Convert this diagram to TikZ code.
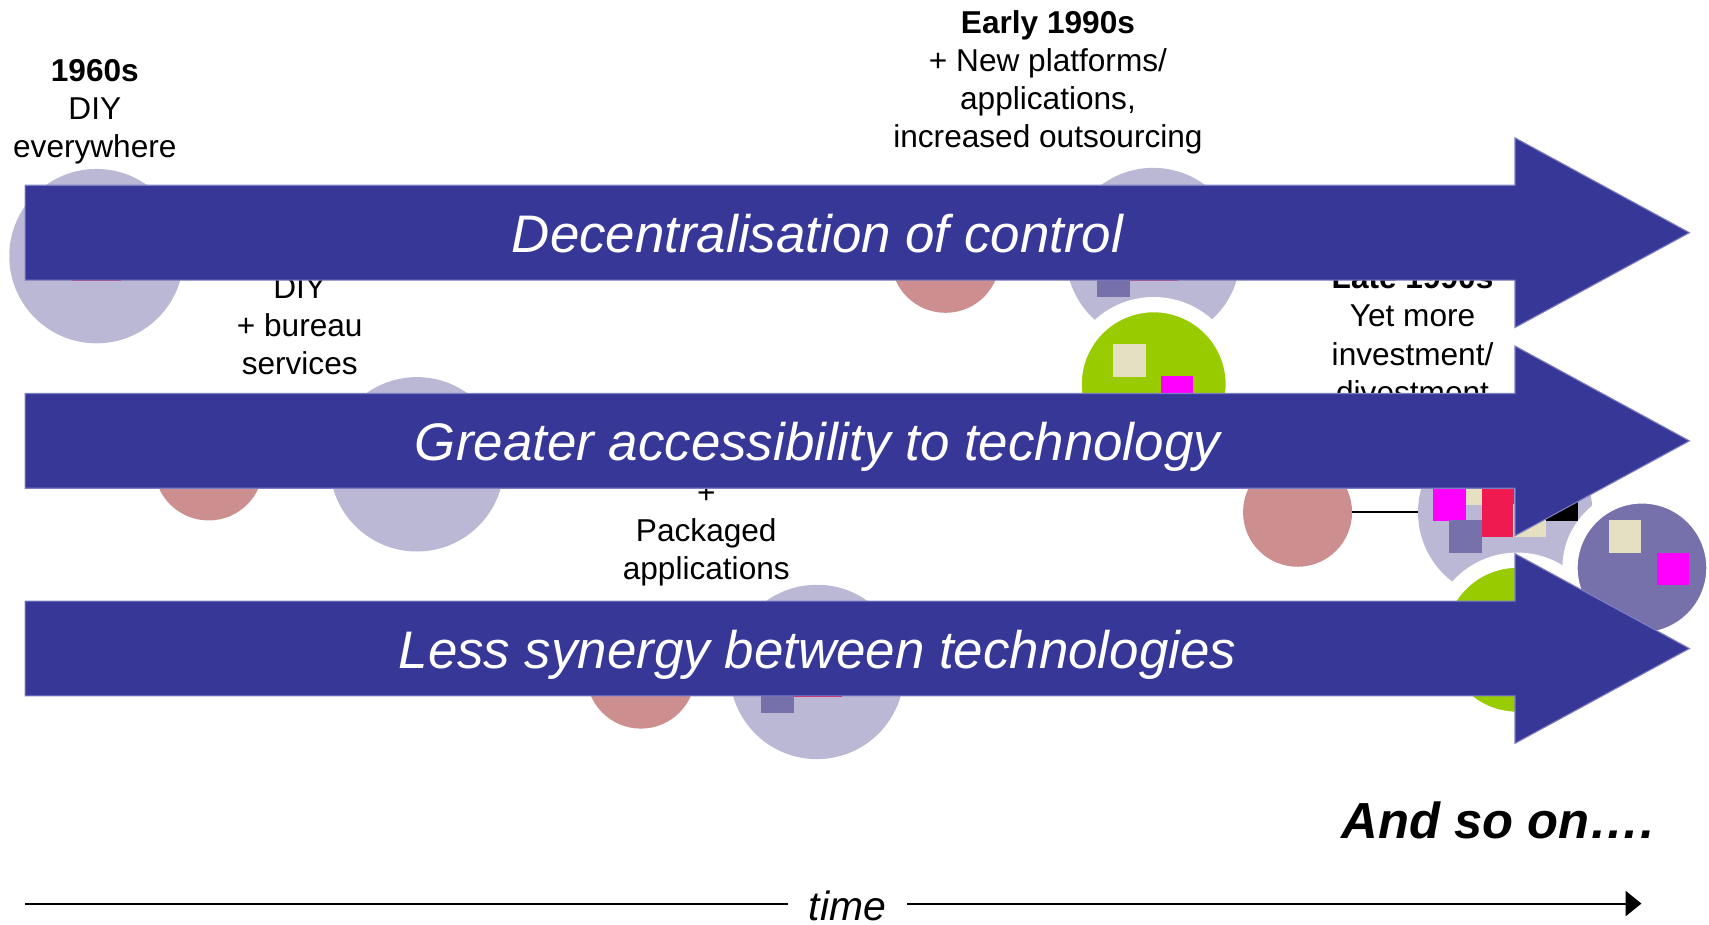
\documentclass[tikz,border=0pt]{standalone}
\usepackage{fontspec}
\setmainfont{Liberation Sans}
\usetikzlibrary{arrows.meta,positioning,calc}
\definecolor{bandblue}{RGB}{55,55,151}
\definecolor{bandedge}{RGB}{125,125,195}
\definecolor{lavender}{RGB}{187,184,214}
\definecolor{rosy}{RGB}{204,142,142}
\definecolor{lime}{RGB}{153,204,0}
\definecolor{beige}{RGB}{229,224,194}
\definecolor{purp}{RGB}{118,112,171}
\definecolor{crim}{RGB}{238,26,80}
\definecolor{fuchsia}{RGB}{255,0,255}
\tikzset{
band/.style={
  fill=bandblue, draw=bandedge, line width=1pt
  },
bandtext/.style={
  anchor=base, text=white, inner sep=0pt,
  font=\fontsize{48.5}{58}\selectfont\itshape
  },
era/.style={
  anchor=base, align=center, inner sep=0pt,
  font=\fontsize{29}{35}\selectfont
  },
blob/.style={
  circle, inner sep=0pt, minimum size=#1
  },
lavdot/.style={blob=160pt, fill=lavender},
pinkdot/.style={blob=100pt, fill=rosy},
ringdot/.style 2 args={
  blob=#1, fill=#2, draw=white, line width=14pt
  }
}
\begin{document}
\begin{tikzpicture}[x=1pt,y=-1pt,>={Triangle[length=14.5pt,width=23pt]}]
\useasboundingbox (0,0) rectangle (1568,848);

\node[era] (lab60) at (87,144.5) {\textbf{1960s}\\DIY\\everywhere};
\node[era] (lab70) at (275,344) {DIY\\+ bureau\\services};
\node[era] (lab80) at (648,532) {+\\Packaged\\applications};
\node[era] (lab90) at (961.5,135.5)
  {\textbf{Early 1990s}\\+ New platforms/\\applications,\\increased outsourcing};
\node[era] (lab99) at (1296,370)
  {\textbf{Late 1990s}\\Yet more\\investment/\\divestment};

\node[lavdot] (lav60) at (88.5,235) {};
\fill[crim] (66,228) rectangle (111,258);

\node[pinkdot] (pink70) at (191.5,427.5) {};
\node[lavdot] (lav70) at (382.5,426) {};
\fill[crim] (360,419) rectangle (405,449);

\node[pinkdot] (pink80) at (588,618.5) {};
\node[lavdot] (lav80) at (749.5,616.5) {};
\fill[purp] (698.5,624) rectangle (728.5,654);
\fill[crim] (728.5,609.5) rectangle (772.5,639.5);

\node[pinkdot] (pink90) at (867.5,237) {};
\node[lavdot] (lav90) at (1058,234) {};
\fill[purp] (1006.5,242.5) rectangle (1036.5,272.5);
\fill[crim] (1036.5,228) rectangle (1081,258);
\node[ringdot={146pt}{lime}] (lime90) at (1058.5,352.5) {};
\fill[beige] (1021,315.5) rectangle (1051,345.5);
\fill[fuchsia] (1065,345) rectangle (1095,375);

\node[pinkdot] (pink99) at (1190.5,470) {};
\node[lavdot] (lav99) at (1381,470) {};
\draw[line width=1.5pt] (pink99) -- (lav99);
\fill[beige] (1330,433) rectangle (1360,463);
\fill[fuchsia] (1315,448) rectangle (1345,478);
\fill[purp] (1329.5,477) rectangle (1359.5,507);
\fill[crim] (1359.5,447.5) rectangle (1389.5,492.5);
\fill[beige] (1388,462.5) rectangle (1418,492.5);
\fill[black] (1418,448) rectangle (1448,478);
\node[ringdot={146pt}{lime}] (lime99) at (1392,587) {};
\node[ringdot={132pt}{purp}] (purp99) at (1506.5,521) {};
\fill[beige] (1476,477) rectangle (1506,507);
\fill[fuchsia] (1520,507) rectangle (1550,537);

\draw[band] (23,170) -- (1390,170) -- (1390,126.5) -- (1550,213.5)
  -- (1390,300.5) -- (1390,257) -- (23,257) -- cycle;
\draw[band] (23,361) -- (1390,361) -- (1390,317.5) -- (1550,404.5)
  -- (1390,491.5) -- (1390,448) -- (23,448) -- cycle;
\draw[band] (23,551.5) -- (1390,551.5) -- (1390,508) -- (1550,595)
  -- (1390,682) -- (1390,638.5) -- (23,638.5) -- cycle;

\node[bandtext] (ctrl) at (750,231.5) {Decentralisation of control};
\node[bandtext] (access) at (750,422.5) {Greater accessibility to technology};
\node[bandtext] (synergy) at (750,613) {Less synergy between technologies};

\node[anchor=base west, inner sep=0pt,
  font=\fontsize{46.5}{56}\selectfont\bfseries\itshape]
  (etc) at (1231,769) {And so on….};

\coordinate (t0) at (23,829);
\coordinate (t1) at (1506,829);
\node[anchor=base, inner xsep=19pt, inner ysep=0pt,
  font=\fontsize{37.5}{45}\selectfont\itshape]
  (time) at (777.5,845) {time};
\draw[line width=1.8pt] (t0) -- (t0 -| time.west);
\draw[->,line width=1.8pt] (time.east |- t0) -- (t1);

\end{tikzpicture}
\end{document}
